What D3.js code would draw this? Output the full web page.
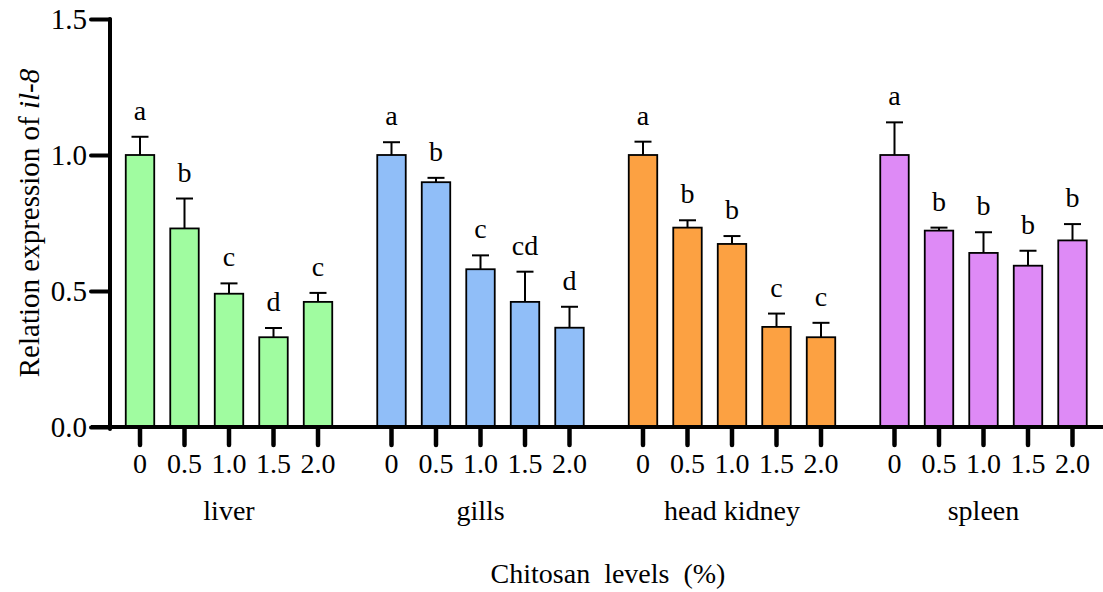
<!DOCTYPE html>
<html>
<head>
<meta charset="utf-8">
<script src="https://cdn.jsdelivr.net/npm/d3@7"></script>
<style>
  html, body { margin: 0; padding: 0; background: #fff; }
  svg { display: block; }
</style>
</head>
<body>
<svg id="chart" width="1103" height="592"></svg>
<script>
// Relative il-8 expression by tissue and chitosan level
const tissues = ["liver", "gills", "head kidney", "spleen"];
const levels = ["0", "0.5", "1.0", "1.5", "2.0"];
const tissueColors = ["#a0fca0", "#90bef8", "#fca142", "#de8af6"];

const liverMean   = [1.00, 0.73, 0.49, 0.33, 0.46];
const liverSE     = [0.067, 0.11, 0.038, 0.034, 0.033];
const liverSig    = ["a", "b", "c", "d", "c"];

const gillsMean   = [1.00, 0.90, 0.58, 0.46, 0.365];
const gillsSE     = [0.047, 0.016, 0.051, 0.111, 0.077];
const gillsSig    = ["a", "b", "c", "cd", "d"];

const kidneyMean  = [1.00, 0.733, 0.673, 0.368, 0.33];
const kidneySE    = [0.049, 0.027, 0.029, 0.049, 0.053];
const kidneySig   = ["a", "b", "b", "c", "c"];

const spleenMean  = [1.00, 0.722, 0.64, 0.593, 0.686];
const spleenSE    = [0.12, 0.011, 0.076, 0.055, 0.06];
const spleenSig   = ["a", "b", "b", "b", "b"];

const yTicks = [0, 0.5, 1.0, 1.5];

const groups = [
  { name: tissues[0], mean: liverMean,  se: liverSE,  sig: liverSig },
  { name: tissues[1], mean: gillsMean,  se: gillsSE,  sig: gillsSig },
  { name: tissues[2], mean: kidneyMean, se: kidneySE, sig: kidneySig },
  { name: tissues[3], mean: spleenMean, se: spleenSE, sig: spleenSig }
];
const rows = [];
groups.forEach((g, gi) => {
  levels.forEach((lv, li) => {
    rows.push({ tissue: g.name, level: lv, mean: g.mean[li], se: g.se[li], sig: g.sig[li], color: tissueColors[gi] });
  });
});

const FONT = "'Liberation Serif', 'DejaVu Serif', 'Times New Roman', serif";
const FS = 28;
const svg = d3.select("#chart");

const y = d3.scaleLinear().domain([0, 1.5]).range([427, 19]);

const xGroup = d3.scaleBand().domain(tissues).range([117.75, 1094.75])
  .paddingInner(0.1153).paddingOuter(0);
const xLevel = d3.scaleBand().domain(levels).range([0, xGroup.bandwidth()])
  .paddingInner(0.36).paddingOuter(0.18);
const cx = d => xGroup(d.tissue) + xLevel(d.level) + xLevel.bandwidth() / 2;

// bars
svg.append("g").selectAll("rect").data(rows).join("rect")
  .attr("x", d => xGroup(d.tissue) + xLevel(d.level))
  .attr("y", d => y(d.mean))
  .attr("width", xLevel.bandwidth())
  .attr("height", d => y(0) - y(d.mean))
  .attr("fill", d => d.color)
  .attr("stroke", "#000")
  .attr("stroke-width", 1.8);

// upper error bars
const eb = svg.append("g").attr("stroke", "#000").attr("stroke-width", 2);
eb.selectAll("line.v").data(rows).join("line").attr("class", "v")
  .attr("x1", cx).attr("x2", cx)
  .attr("y1", d => y(d.mean)).attr("y2", d => y(d.mean + d.se));
eb.selectAll("line.c").data(rows).join("line").attr("class", "c")
  .attr("x1", d => cx(d) - 8.5).attr("x2", d => cx(d) + 8.5)
  .attr("y1", d => y(d.mean + d.se)).attr("y2", d => y(d.mean + d.se));

// significance letters
svg.append("g").selectAll("text").data(rows).join("text")
  .attr("x", cx)
  .attr("y", d => y(d.mean + d.se) - 17)
  .attr("text-anchor", "middle")
  .style("font-family", FONT).style("font-size", FS + "px")
  .text(d => d.sig);

// y axis
const yAxis = svg.append("g").attr("transform", "translate(110,0)")
  .call(d3.axisLeft(y).tickValues(yTicks).tickFormat(d3.format(".1f")).tickSize(19).tickPadding(4));
yAxis.select(".domain").remove();
yAxis.selectAll(".tick line").attr("stroke", "#000").attr("stroke-width", 4).attr("stroke-linecap", "round");
yAxis.selectAll(".tick text").attr("fill", "#000").attr("dy", "0.33em")
  .style("font-family", FONT).style("font-size", "29px");
svg.append("line").attr("x1", 110).attr("x2", 110).attr("y1", y(1.5)).attr("y2", 429)
  .attr("stroke", "#000").attr("stroke-width", 4).attr("stroke-linecap", "round");

// x axis baseline
svg.append("line").attr("x1", 91).attr("x2", 1103).attr("y1", y(0)).attr("y2", y(0))
  .attr("stroke", "#000").attr("stroke-width", 4);

// x ticks and level labels
const xt = svg.append("g");
xt.selectAll("line").data(rows).join("line")
  .attr("x1", cx).attr("x2", cx).attr("y1", 428).attr("y2", 445)
  .attr("stroke", "#000").attr("stroke-width", 4.5).attr("stroke-linecap", "round");
xt.selectAll("text").data(rows).join("text")
  .attr("x", cx).attr("y", 473)
  .attr("text-anchor", "middle")
  .style("font-family", FONT).style("font-size", "28px")
  .text(d => d.level);

// tissue labels
svg.append("g").selectAll("text").data(tissues).join("text")
  .attr("x", d => xGroup(d) + xGroup.bandwidth() / 2)
  .attr("y", 520)
  .attr("text-anchor", "middle")
  .style("font-family", FONT).style("font-size", FS + "px")
  .text(d => d);

// axis titles
svg.append("text").attr("x", 608).attr("y", 583).attr("text-anchor", "middle")
  .style("font-family", FONT).style("font-size", FS + "px").style("white-space", "pre")
  .text("Chitosan  levels  (%)");

const yt = svg.append("text")
  .attr("transform", `translate(39,${(y(0) + y(1.5)) / 2}) rotate(-90)`)
  .attr("text-anchor", "middle")
  .style("font-family", FONT).style("font-size", "29px");
yt.append("tspan").text("Relation expression of ");
yt.append("tspan").style("font-style", "italic").text("il-8");
</script>
</body>
</html>
